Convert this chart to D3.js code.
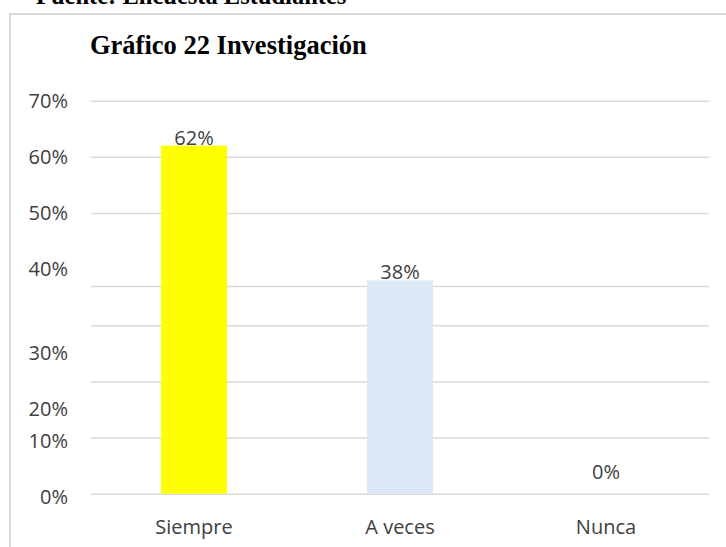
<!DOCTYPE html>
<html>
<head>
<meta charset="utf-8">
<script src="https://cdn.jsdelivr.net/npm/d3@7"></script>
<style>
  html, body { margin: 0; padding: 0; background: #fff; }
  svg { display: block; }
</style>
</head>
<body>
<div id="chart"></div>
<script>
// data
const categories = ["Siempre", "A veces", "Nunca"];
const values = [62, 38, 0];
const barColors = ["#ffff00", "#dde8f7", "#a5a5a5"];
// value labels sit just above the bars, the 0% one is lifted a bit
const labelLift = [0, 0, 2.5];
// gridlines as they appear (the 40% line is replaced by one near 37%)
const gridValues = [0, 10, 20, 30, 37, 50, 60, 70];
// tick labels and the value where each one is drawn
const tickLabels = ["0%", "10%", "20%", "30%", "40%", "50%", "60%", "70%"];
const tickAt = [-0.5, 9.4, 15, 25, 40, 50, 60, 70];

const W = 726, H = 547;
const plot = { left: 91, right: 709, top: 100.7, bottom: 493.7 };

const svg = d3.select("#chart").append("svg")
    .attr("width", W).attr("height", H);

// chart frame (only top and left edges are in view)
svg.append("path")
    .attr("d", `M10,${H} L10,14 L${W},14`)
    .attr("fill", "none")
    .attr("stroke", "#d9d9d9")
    .attr("stroke-width", 2);

// caption above the frame, cut by the top edge like in the source
svg.append("text")
    .attr("x", 36).attr("y", 4)
    .attr("font-family", "'Liberation Serif', 'Times New Roman', serif")
    .attr("font-weight", "bold")
    .attr("font-size", 24.5)
    .attr("fill", "#000")
    .text("Fuente: Encuesta Estudiantes");

svg.append("text")
    .attr("x", 90).attr("y", 54)
    .attr("font-family", "'Liberation Serif', 'Times New Roman', serif")
    .attr("font-weight", "bold")
    .attr("font-size", 26.5)
    .attr("fill", "#000")
    .text("Gráfico 22 Investigación");

const x = d3.scaleBand()
    .domain(categories)
    .range([plot.left, plot.right])
    .paddingInner(0.68)
    .paddingOuter(0.34);

const y = d3.scaleLinear()
    .domain([0, 70])
    .range([plot.bottom, plot.top]);

const font = "'Open Sans', 'Noto Sans', sans-serif";
const textColor = "#404040";

// gridlines
const grid = svg.append("g")
    .attr("transform", `translate(${plot.left},0)`)
    .call(d3.axisLeft(y).tickValues(gridValues).tickSize(-(plot.right - plot.left)).tickFormat(""));
grid.select(".domain").remove();
grid.selectAll(".tick line")
    .attr("stroke", "#d9d9d9")
    .attr("stroke-width", 1.5);

// y tick labels
svg.append("g").selectAll("text")
    .data(tickLabels)
    .join("text")
    .attr("x", 68)
    .attr("y", (d, i) => y(tickAt[i]))
    .attr("dy", "0.35em")
    .attr("text-anchor", "end")
    .attr("font-family", font)
    .attr("font-size", 20)
    .attr("fill", textColor)
    .text(d => d);

// bars
svg.append("g").selectAll("rect")
    .data(values)
    .join("rect")
    .attr("x", (d, i) => x(categories[i]))
    .attr("y", d => y(d))
    .attr("width", x.bandwidth())
    .attr("height", d => y(0) - y(d))
    .attr("fill", (d, i) => barColors[i]);

// value labels
svg.append("g").selectAll("text")
    .data(values)
    .join("text")
    .attr("x", (d, i) => x(categories[i]) + x.bandwidth() / 2)
    .attr("y", (d, i) => y(d + labelLift[i]) - 1)
    .attr("text-anchor", "middle")
    .attr("font-family", font)
    .attr("font-size", 20)
    .attr("fill", textColor)
    .text(d => d + "%");

// category axis labels
const xa = svg.append("g")
    .attr("transform", `translate(0,${plot.bottom})`)
    .call(d3.axisBottom(x).tickSize(0).tickPadding(0));
xa.select(".domain").remove();
xa.selectAll("text")
    .attr("y", 40)
    .attr("dy", 0)
    .attr("font-family", font)
    .attr("font-size", 20)
    .attr("fill", textColor);
</script>
</body>
</html>
